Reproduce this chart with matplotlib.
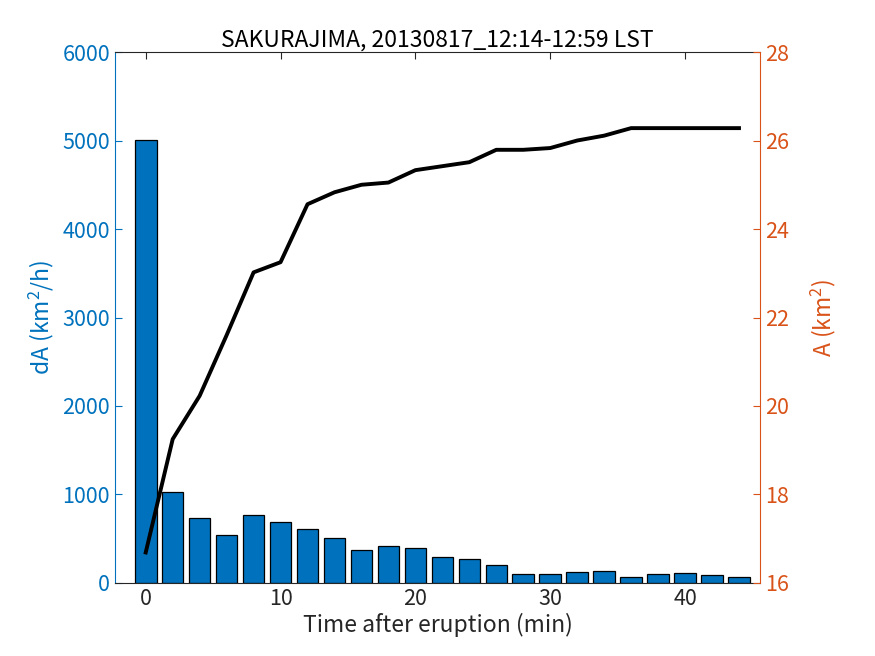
import matplotlib
matplotlib.use("Agg")
import matplotlib.pyplot as plt

plt.rcParams['font.family'] = ['Noto Sans CJK JP', 'DejaVu Sans']
plt.rcParams['mathtext.fontset'] = 'custom'
plt.rcParams['mathtext.rm'] = 'Noto Sans CJK JP'

# time after eruption (min)
t = [0, 2, 4, 6, 8, 10, 12, 14, 16, 18, 20, 22, 24, 26, 28, 30, 32, 34, 36, 38, 40, 42, 44]
# area growth rate dA (km^2/h)
dA = [5010, 1025, 731, 540, 765, 688, 607, 505, 370, 415, 393, 290, 268, 200,
      98, 98, 121, 132, 65, 98, 117, 87, 64]
# cumulative area A (km^2)
A = [16.69, 19.25, 20.23, 21.6, 23.02, 23.25, 24.56, 24.83, 25.0, 25.05, 25.33, 25.42,
     25.51, 25.79, 25.79, 25.83, 26.0, 26.11, 26.28, 26.28, 26.28, 26.28, 26.28]

blue = '#0072BD'
orange = '#D95319'
dark = '#262626'

fig = plt.figure(figsize=(8.75, 6.56), dpi=100)
ax = fig.add_axes([0.1314, 0.1113, 0.7372, 0.8094])
ax.bar(t, dA, width=1.6, color=blue, edgecolor='black', linewidth=0.9, zorder=2)
ax.set_xlim(-2.28, 45.56)
ax.set_ylim(0, 6000)
ax.set_xticks([0, 10, 20, 30, 40])
ax.set_yticks(range(0, 6001, 1000))
ax.set_xlabel('Time after eruption (min)', fontsize=16.5, color=dark, labelpad=2)
ax.set_ylabel('dA (km$^2$/h)', color=blue, fontsize=16.5, labelpad=5)
ax.tick_params(axis='y', colors=blue, direction='in', labelsize=15.5, length=5)
ax.tick_params(axis='x', direction='in', labelsize=15.5, length=5, top=True, colors=dark)
ax.spines['left'].set_color(blue)
ax.spines['right'].set_visible(False)
ax.spines['top'].set_color(dark)
ax.spines['bottom'].set_color(dark)

ax2 = ax.twinx()
ax2.plot(t, A, color='black', linewidth=2.8, zorder=3)
ax2.set_ylim(16, 28)
ax2.set_yticks(range(16, 29, 2))
ax2.set_ylabel('A (km$^2$)', color=orange, fontsize=16.5, labelpad=14)
ax2.tick_params(axis='y', colors=orange, direction='in', labelsize=15.5, length=5)
ax2.spines['right'].set_color(orange)
ax2.spines['left'].set_visible(False)
ax2.spines['top'].set_visible(False)
ax2.spines['bottom'].set_visible(False)

ax.set_title('SAKURAJIMA, 20130817_12:14-12:59 LST', fontsize=16.5, pad=4)

fig.savefig('out.png', dpi=100)
